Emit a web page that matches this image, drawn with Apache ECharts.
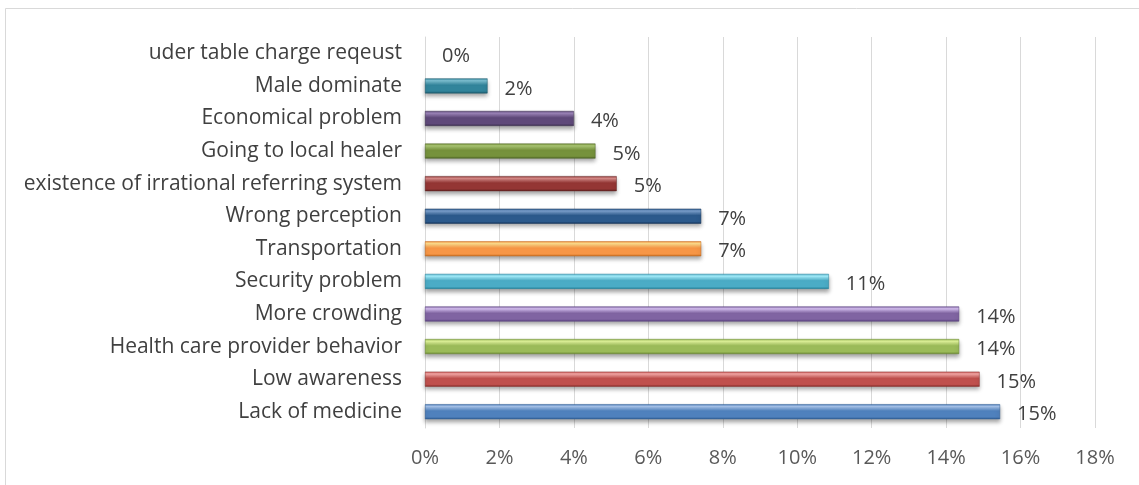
<!DOCTYPE html>
<html>
<head>
<meta charset="utf-8">
<script src="https://cdn.jsdelivr.net/npm/echarts@6/dist/echarts.min.js"></script>
<style>
html,body{margin:0;padding:0;background:#fff;}
#c{width:1139px;height:485px;}
</style>
</head>
<body>
<div id="c"></div>
<script>
const categories = ["Lack of medicine","Low awareness","Health care provider behavior","More crowding","Security problem","Transportation","Wrong perception","existence of irrational referring system","Going to local healer","Economical problem","Male dominate","uder table charge reqeust"];
const values = [15.45, 14.9, 14.35, 14.35, 10.85, 7.42, 7.42, 5.15, 4.58, 4.0, 1.68, 0];
const labels = ["15%","15%","14%","14%","11%","7%","7%","5%","5%","4%","2%","0%"];
const xTicks = [0,2,4,6,8,10,12,14,16,18];
const barColors = [
  ["#a7c4ec","#4f81bd","#2f5c92"],
  ["#f7a9a7","#c0504d","#8c2f2c"],
  ["#e1f59a","#9bbb59","#6b8a30"],
  ["#d6c0f2","#8064a2","#5a4280"],
  ["#a6f1ff","#4bacc6","#24849e"],
  ["#ffde8c","#f79646","#c26a1e"],
  ["#7da2cf","#2c5a8c","#17365d"],
  ["#d88c8a","#943634","#632321"],
  ["#acc874","#76923c","#4e6426"],
  ["#9e86bb","#5f497a","#3f3052"],
  ["#7ec1d3","#31849b","#1d5b6c"],
  ["#cccccc","#999999","#666666"]
];
const FONT = '"Open Sans", Lato, sans-serif';
const chart = echarts.init(document.getElementById('c'));
chart.setOption({
  backgroundColor:'#fff',
  animation:false,
  graphic:[{type:'rect',shape:{x:5.5,y:8.5,width:1150,height:500},style:{fill:'none',stroke:'#d9d9d9',lineWidth:1},silent:true,z:-1}],
  grid:{left:425,right:44,top:37,bottom:57,containLabel:false},
  xAxis:{type:'value',min:0,max:18,interval:2,
    axisLine:{show:false},axisTick:{show:false},
    splitLine:{show:true,lineStyle:{color:'#d9d9d9',width:1}},
    axisLabel:{formatter:v=>v+'%',color:'#595959',fontSize:20,fontFamily:FONT,margin:20,customValues:xTicks}
  },
  yAxis:{type:'category',data:categories,
    axisLine:{show:true,lineStyle:{color:'#d9d9d9'}},axisTick:{show:false},
    axisLabel:{color:'#404040',fontSize:21,fontFamily:FONT,margin:23}
  },
  series:[{type:'bar',barWidth:15,
    data:values.map((v,i)=>({value:v,itemStyle:{
      color:new echarts.graphic.LinearGradient(0,0,0,1,[
        {offset:0,color:barColors[i][1]},
        {offset:0.15,color:barColors[i][0]},
        {offset:0.45,color:barColors[i][1]},
        {offset:0.85,color:barColors[i][1]},
        {offset:1,color:barColors[i][2]}]),
      borderColor:barColors[i][2],borderWidth:v>0?0.5:0,
      shadowColor:'rgba(0,0,0,0.35)',shadowBlur:v>0?4:0,shadowOffsetY:3
    }})),
    label:{show:true,position:'right',distance:17,offset:[0,3],
      formatter:p=>labels[p.dataIndex],color:'#404040',fontSize:20,fontFamily:FONT}
  }]
});
</script>
</body>
</html>
